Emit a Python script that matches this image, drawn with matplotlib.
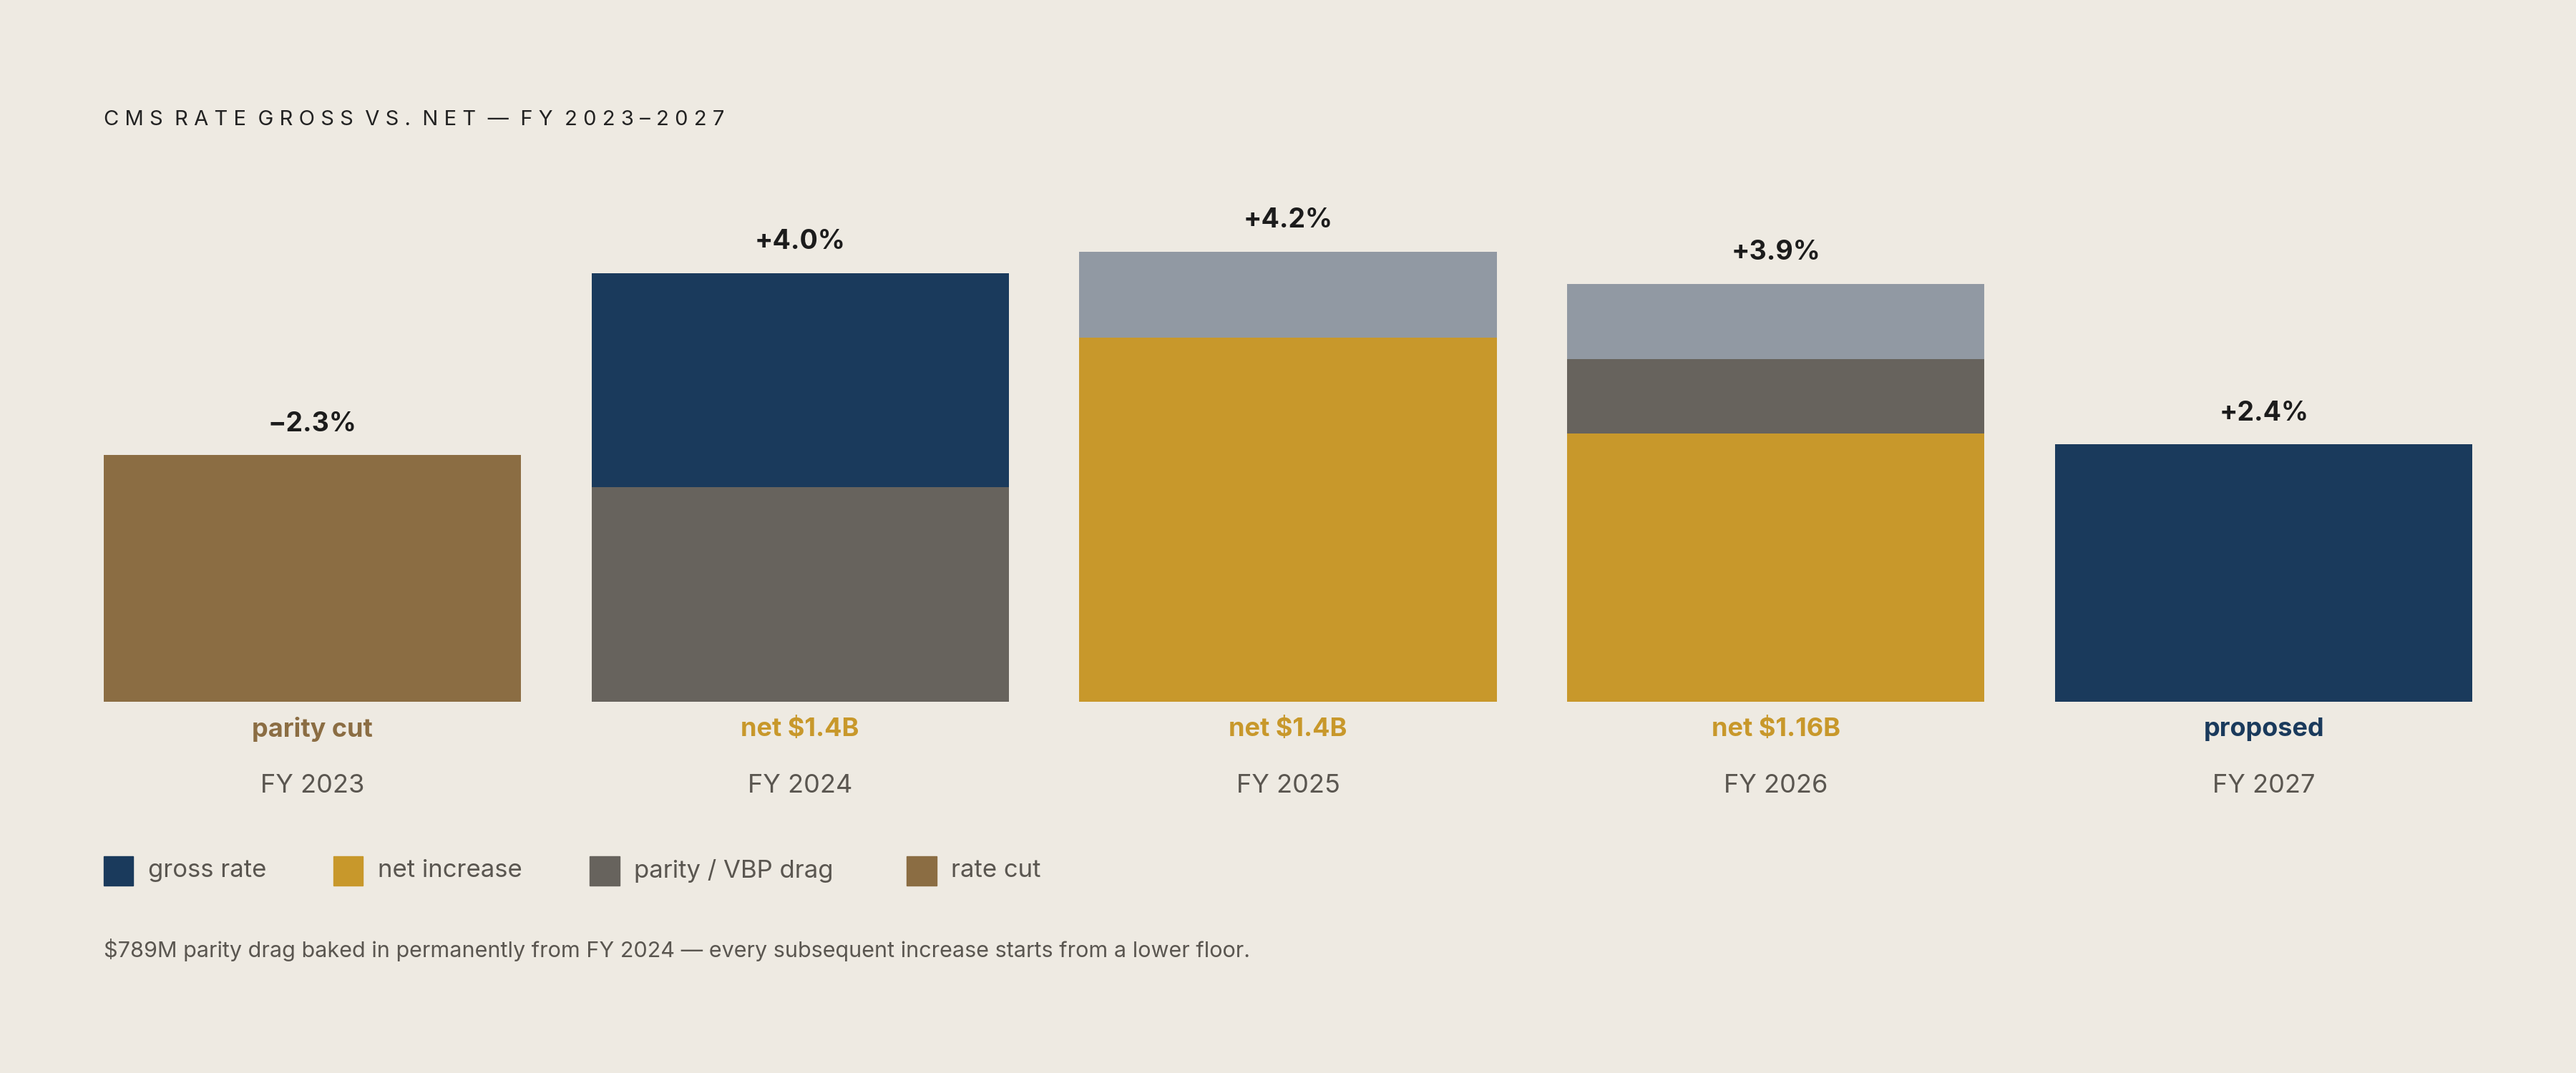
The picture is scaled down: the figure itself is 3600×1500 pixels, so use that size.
import matplotlib
matplotlib.use("Agg")
import matplotlib.pyplot as plt
from matplotlib.patches import Rectangle

years = ["FY 2023", "FY 2024", "FY 2025", "FY 2026", "FY 2027"]
rate_cut = [2.3, 0, 0, 0, 0]
net_inc = [0, 0, 3.4, 2.5, 0]
parity = [0, 2.0, 0, 0.7, 0]
gross = [0, 2.0, 0, 0, 2.4]
other = [0, 0, 0.8, 0.7, 0]
value_labels = ["\u22122.3%", "+4.0%", "+4.2%", "+3.9%", "+2.4%"]
sub_labels = ["parity cut", "net $1.4B", "net $1.4B", "net $1.16B", "proposed"]
legend_labels = ["gross rate", "net increase", "parity / VBP drag", "rate cut"]

BG = "#EEEAE2"
NAVY = "#1A3A5C"; GOLD = "#C8982B"; GREY = "#67635D"; BROWN = "#8B6D43"; LIGHT = "#9199A3"
sub_colors = [BROWN, GOLD, GOLD, GOLD, NAVY]
FONT = ["Inter", "DejaVu Sans"]
plt.rcParams["font.family"] = FONT

W, H = 1568, 653
fig = plt.figure(figsize=(36, 15), dpi=100, facecolor=BG)
def fx(x): return x / W
def fy(y): return 1 - y / H

ax = fig.add_axes([fx(63), fy(427), fx(1505) - fx(63), fy(101) - fy(427)])
ax.set_facecolor(BG)
ax.set_xlim(-0.4276, 4.4276)
ax.set_ylim(0, 5)
ax.axis("off")

x = list(range(len(years)))
bw = 0.855
bottom = [0] * 5
for vals, col in [(rate_cut, BROWN), (net_inc, GOLD), (parity, GREY), (gross, NAVY), (other, LIGHT)]:
    ax.bar(x, vals, bw, bottom=bottom, color=col, edgecolor="none")
    bottom = [b + v for b, v in zip(bottom, vals)]

for i in x:
    ax.text(i, bottom[i] + 0.17, value_labels[i], ha="center", va="bottom",
            fontsize=27, fontweight="bold", color="#1c1c1c")
    xc = fx(63 + (i + 0.4276) / 4.8552 * (1505 - 63))
    fig.text(xc, fy(444), sub_labels[i], ha="center", va="center", fontsize=26,
             fontweight="bold", color=sub_colors[i])
    fig.text(xc, fy(478), years[i], ha="center", va="center", fontsize=26, color="#5a5650")

fig.text(fx(63), fy(73), "  ".join(" ".join(w) for w in "CMS RATE GROSS VS. NET \u2014 FY 2023\u20132027".split(" ")),
         ha="left", va="center", fontsize=21, color="#222222")

for lx, lab, col in zip([63, 203, 359, 552], legend_labels, [NAVY, GOLD, GREY, BROWN]):
    fig.patches.append(Rectangle((fx(lx), fy(539)), fx(18), fy(521) - fy(539),
                                 transform=fig.transFigure, color=col))
    fig.text(fx(lx + 27), fy(530), lab, ha="left", va="center", fontsize=25, color="#5a5650")

fig.text(fx(63), fy(578), "$789M parity drag baked in permanently from FY 2024 \u2014 every subsequent increase starts from a lower floor.",
         ha="left", va="center", fontsize=22, color="#5a5650")

fig.savefig("out.png", dpi=100, facecolor=BG)
